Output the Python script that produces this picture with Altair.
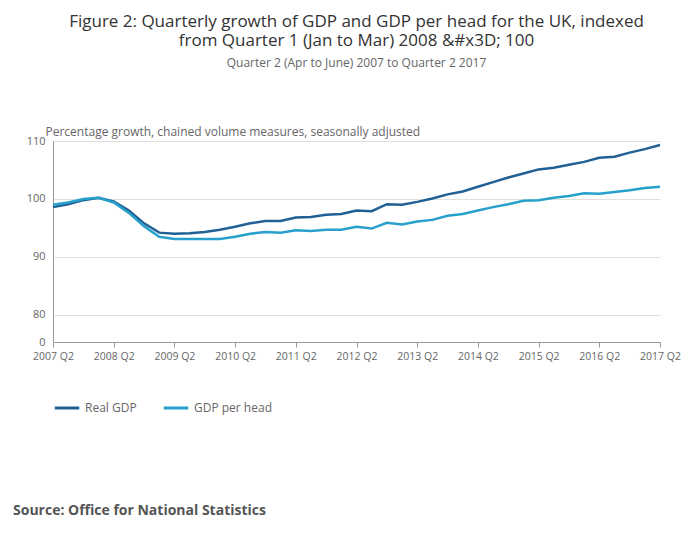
import altair as alt
import pandas as pd

quarters = list(range(41))
real_gdp = [98.6, 99.1, 99.8, 100.2, 99.6, 98.0, 95.8, 94.2, 94.0, 94.1, 94.3, 94.7, 95.2, 95.8, 96.2, 96.2,
            96.8, 96.9, 97.3, 97.4, 98.0, 97.9, 99.1, 99.0, 99.5, 100.1, 100.8, 101.3, 102.1, 102.9, 103.7,
            104.4, 105.1, 105.4, 105.9, 106.4, 107.1, 107.3, 108.0, 108.6, 109.3]
gdp_head = [99.0, 99.4, 100.0, 100.2, 99.4, 97.6, 95.3, 93.5, 93.1, 93.1, 93.1, 93.1, 93.5, 94.0, 94.3, 94.2,
            94.6, 94.5, 94.7, 94.7, 95.2, 94.9, 95.9, 95.6, 96.1, 96.4, 97.1, 97.4, 98.0, 98.6, 99.1, 99.7,
            99.8, 100.2, 100.5, 101.0, 100.9, 101.2, 101.5, 101.9, 102.1]
series = ["Real GDP", "GDP per head"]

rows = []
for s, vals in zip(series, [real_gdp, gdp_head]):
    for q, v in zip(quarters, vals):
        rows.append({"q": q, "value": v, "series": s})
df = pd.DataFrame(rows)

lines = alt.Chart(df).mark_line(strokeWidth=2.5).encode(
    x=alt.X("q:Q", scale=alt.Scale(domain=[0, 40], nice=False),
            axis=alt.Axis(values=list(range(0, 41, 4)), labelExpr="(2007 + datum.value/4) + ' Q2'",
                          title=None, grid=False, ticks=True, tickColor="#999", domainColor="#999",
                          labelColor="#666", labelFont="Open Sans", labelFontSize=10.5, labelPadding=4,
                          labelOverlap=False, labelFlush=False)),
    y=alt.Y("value:Q", scale=alt.Scale(domain=[75.34, 110], nice=False, zero=False),
            axis=alt.Axis(values=[75.34, 80, 90, 100, 110],
                          labelExpr="datum.value < 79 ? '0' : datum.label",
                          title="Percentage growth, chained volume measures, seasonally adjusted",
                          titleAngle=0, titleAnchor="end", titleAlign="left", titleBaseline="bottom",
                          titleX=-8, titleY=-3, titleFont="Open Sans", titleFontSize=12,
                          titleFontWeight="normal", titleColor="#666",
                          grid=True, gridColor="#e0e0e0", ticks=False, domainColor="#999",
                          labelColor="#666", labelFont="Open Sans", labelFontSize=11, labelPadding=8)),
    color=alt.Color("series:N", sort=series,
                    scale=alt.Scale(domain=series, range=["#206095", "#27a0cc"]),
                    legend=alt.Legend(orient="bottom", direction="horizontal", title=None,
                                      symbolType="stroke", symbolStrokeWidth=3, symbolSize=600,
                                      labelFont="Open Sans", labelFontSize=12, labelColor="#666",
                                      offset=32, columnPadding=20)),
)

source = alt.Chart(pd.DataFrame({"t": ["Source: Office for National Statistics"]})).mark_text(
    align="left", baseline="middle", font="Open Sans", fontSize=14, fontWeight="bold", color="#555"
).encode(text="t:N", x=alt.value(-40), y=alt.value(370))

chart = alt.layer(lines, source).properties(
    width=607, height=201,
    title=alt.TitleParams(
        ["Figure 2: Quarterly growth of GDP and GDP per head for the UK, indexed",
         "from Quarter 1 (Jan to Mar) 2008 &#x3D; 100"],
        subtitle="Quarter 2 (Apr to June) 2007 to Quarter 2 2017",
        font="Open Sans", fontSize=17, fontWeight="normal", color="#333",
        subtitleFont="Open Sans", subtitleFontSize=12, subtitleColor="#666", subtitlePadding=8,
        anchor="middle", offset=55),
).configure_view(stroke=None)

chart.save("out.html", embed_options={"renderer": "svg", "actions": False})
